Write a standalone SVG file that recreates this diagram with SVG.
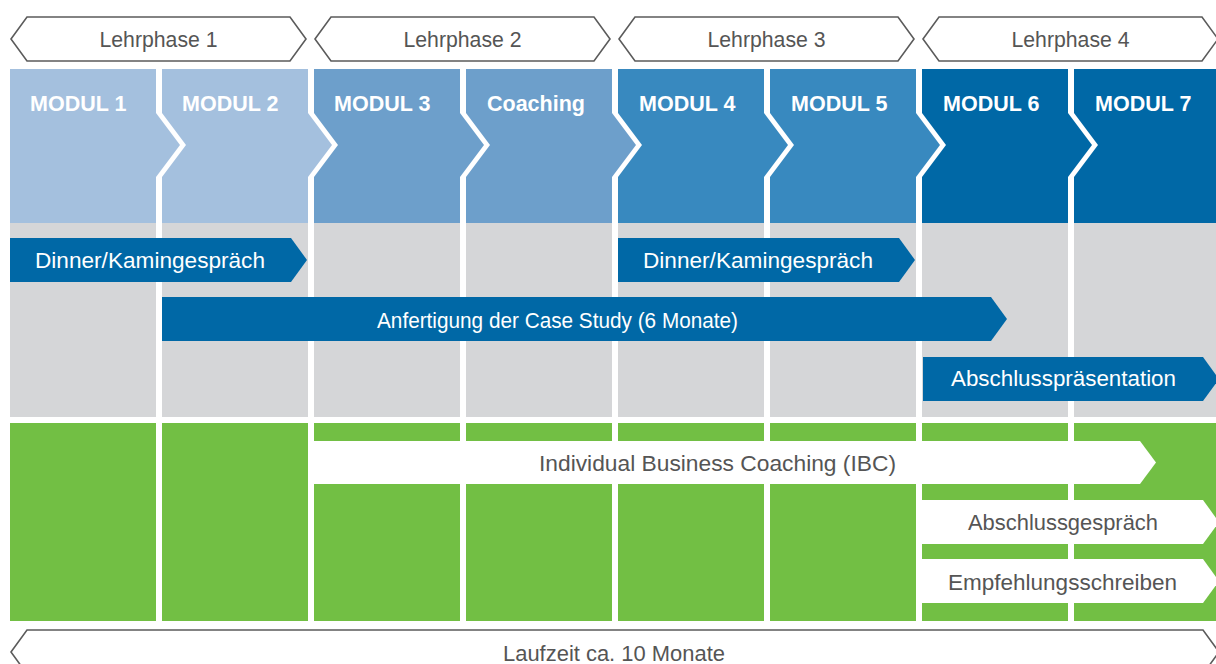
<svg xmlns="http://www.w3.org/2000/svg" width="1216" height="664" viewBox="0 0 1216 664">
<style>
.hex{fill:#fff;stroke:#5b5b5b;stroke-width:1.6}
.ph{font-family:"Liberation Sans",Arial,sans-serif;font-size:22px;fill:#555;text-anchor:middle}
.mod{font-family:"Liberation Sans",Arial,sans-serif;font-size:21.5px;font-weight:bold;fill:#fff}
.c1{fill:#a4c0de}.c2{fill:#6d9fcb}.c3{fill:#3889bf}.c4{fill:#0068a6}
.gray{fill:#d5d6d8}.green{fill:#72bf44}
.bar{fill:#0068a6}.wbar{fill:#fff}
.bt{font-family:"Liberation Sans",Arial,sans-serif;font-size:22.5px;fill:#fff}
.gt{font-family:"Liberation Sans",Arial,sans-serif;font-size:22.5px;fill:#555}
</style>
<rect width="1216" height="664" fill="#fff"/>

<g id="phases">
<g id="lehrphase1"><polygon class="hex" points="11,39 27,17 290,17 306,39 290,61 27,61"/><text class="ph" x="158.5" y="46.5" textLength="118" lengthAdjust="spacingAndGlyphs">Lehrphase 1</text></g>
<g id="lehrphase2"><polygon class="hex" points="315,39 331,17 594,17 610,39 594,61 331,61"/><text class="ph" x="462.5" y="46.5" textLength="118" lengthAdjust="spacingAndGlyphs">Lehrphase 2</text></g>
<g id="lehrphase3"><polygon class="hex" points="619,39 635,17 898,17 914,39 898,61 635,61"/><text class="ph" x="766.5" y="46.5" textLength="118" lengthAdjust="spacingAndGlyphs">Lehrphase 3</text></g>
<g id="lehrphase4"><polygon class="hex" points="923,39 939,17 1202,17 1218,39 1202,61 939,61"/><text class="ph" x="1070.5" y="46.5" textLength="118" lengthAdjust="spacingAndGlyphs">Lehrphase 4</text></g>
</g>

<g id="background">
<rect class="gray" x="10" y="223" width="146" height="194"/>
<rect class="gray" x="162" y="223" width="146" height="194"/>
<rect class="gray" x="314" y="223" width="146" height="194"/>
<rect class="gray" x="466" y="223" width="146" height="194"/>
<rect class="gray" x="618" y="223" width="146" height="194"/>
<rect class="gray" x="770" y="223" width="146" height="194"/>
<rect class="gray" x="922" y="223" width="146" height="194"/>
<rect class="gray" x="1074" y="223" width="146" height="194"/>
<rect class="green" x="10" y="423" width="146" height="198"/>
<rect class="green" x="162" y="423" width="146" height="198"/>
<rect class="green" x="314" y="423" width="146" height="198"/>
<rect class="green" x="466" y="423" width="146" height="198"/>
<rect class="green" x="618" y="423" width="146" height="198"/>
<rect class="green" x="770" y="423" width="146" height="198"/>
<rect class="green" x="922" y="423" width="146" height="198"/>
<rect class="green" x="1074" y="423" width="146" height="198"/>
</g>

<g id="modules">
<g id="modul1"><polygon class="c1" points="10,69 156,69 156,113 180,145 156,177 156,223 10,223"/><text class="mod" x="30" y="111">MODUL 1</text></g>
<g id="modul2"><polygon class="c1" points="162,69 308,69 308,113 332,145 308,177 308,223 162,223 162,177 186,145 162,113"/><text class="mod" x="182" y="111">MODUL 2</text></g>
<g id="modul3"><polygon class="c2" points="314,69 460,69 460,113 484,145 460,177 460,223 314,223 314,177 338,145 314,113"/><text class="mod" x="334" y="111">MODUL 3</text></g>
<g id="coaching"><polygon class="c2" points="466,69 612,69 612,113 636,145 612,177 612,223 466,223 466,177 490,145 466,113"/><text class="mod" x="487" y="111">Coaching</text></g>
<g id="modul4"><polygon class="c3" points="618,69 764,69 764,113 788,145 764,177 764,223 618,223 618,177 642,145 618,113"/><text class="mod" x="639" y="111">MODUL 4</text></g>
<g id="modul5"><polygon class="c3" points="770,69 916,69 916,113 940,145 916,177 916,223 770,223 770,177 794,145 770,113"/><text class="mod" x="791" y="111">MODUL 5</text></g>
<g id="modul6"><polygon class="c4" points="922,69 1068,69 1068,113 1092,145 1068,177 1068,223 922,223 922,177 946,145 922,113"/><text class="mod" x="943" y="111">MODUL 6</text></g>
<g id="modul7"><polygon class="c4" points="1074,69 1220,69 1220,223 1074,223 1074,177 1098,145 1074,113"/><text class="mod" x="1095" y="111">MODUL 7</text></g>
</g>

<g id="activities">
<g id="dinner1"><polygon class="bar" points="10,238 291,238 307,260 291,282 10,282"/><text class="bt" x="35" y="268" textLength="230" lengthAdjust="spacingAndGlyphs">Dinner/Kamingespräch</text></g>
<g id="dinner2"><polygon class="bar" points="618,238 899,238 915,260 899,282 618,282"/><text class="bt" x="643" y="268" textLength="230" lengthAdjust="spacingAndGlyphs">Dinner/Kamingespräch</text></g>
<g id="casestudy"><polygon class="bar" points="162,297 991,297 1007,319 991,341 162,341"/><text class="bt" x="377" y="328" textLength="361" lengthAdjust="spacingAndGlyphs">Anfertigung der Case Study (6 Monate)</text></g>
<g id="abschlusspraesentation"><polygon class="bar" points="923,357 1203,357 1219,379 1203,401 923,401"/><text class="bt" x="951" y="386" textLength="225" lengthAdjust="spacingAndGlyphs">Abschlusspräsentation</text></g>
<g id="ibc"><polygon class="wbar" points="314,441 1140,441 1156,462.5 1140,484 314,484"/><text class="gt" x="539" y="471" textLength="357" lengthAdjust="spacingAndGlyphs">Individual Business Coaching (IBC)</text></g>
<g id="abschlussgespraech"><polygon class="wbar" points="922,500 1203,500 1219,522 1203,544 922,544"/><text class="gt" x="968" y="530" textLength="190" lengthAdjust="spacingAndGlyphs">Abschlussgespräch</text></g>
<g id="empfehlung"><polygon class="wbar" points="922,559 1203,559 1219,581 1203,603 922,603"/><text class="gt" x="948" y="590" textLength="229" lengthAdjust="spacingAndGlyphs">Empfehlungsschreiben</text></g>
</g>

<g id="laufzeit"><polygon class="hex" points="11,652 27,630 1203,630 1219,652 1203,674 27,674"/><text class="ph" x="614" y="661" textLength="222" lengthAdjust="spacingAndGlyphs">Laufzeit ca. 10 Monate</text></g>
</svg>
